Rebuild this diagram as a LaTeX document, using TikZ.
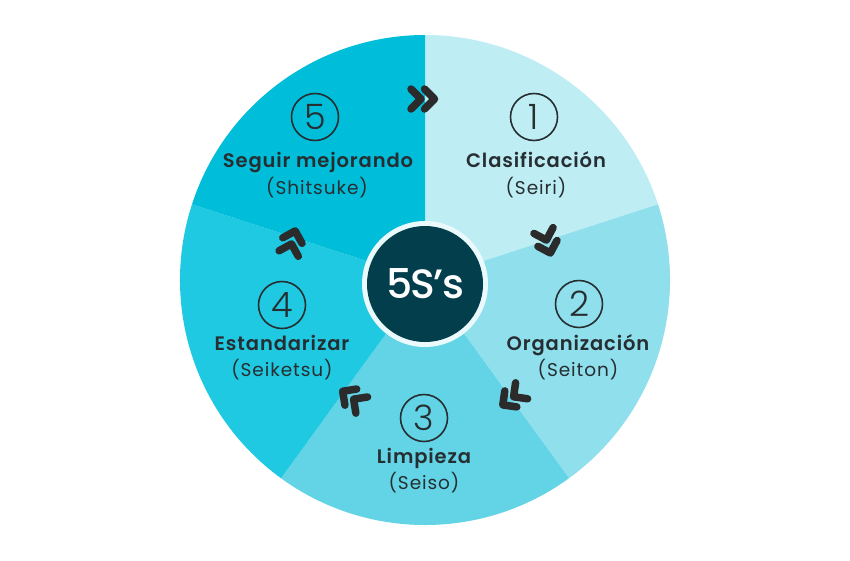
\documentclass[tikz,border=0pt]{standalone}
\usepackage{fontspec}
\setmainfont{Poppins}[BoldFont={Poppins SemiBold}]
\newfontfamily\lightfont{Poppins Light}
\newfontfamily\mediumfont{Poppins Medium}
\newlength{\du}
\setlength{\du}{1pt}
\definecolor{textcolor}{rgb}{0.149020, 0.180392, 0.196078}
\definecolor{chevroncolor}{rgb}{0.168627, 0.168627, 0.168627}
\tikzset{
  titletext/.style={anchor=base, text=textcolor, font=\fontsize{19.5\du}{22\du}\selectfont\bfseries\addfontfeatures{LetterSpace=4.5}},
  subtext/.style={anchor=base, text=textcolor, font=\fontsize{18.5\du}{20\du}\selectfont\addfontfeatures{LetterSpace=5}},
  numring/.style={circle, draw=textcolor, line width=1.6\du, minimum size=47\du, inner sep=0pt, text=textcolor, font=\fontsize{35\du}{35\du}\lightfont},
  chevron/.style={draw=chevroncolor, line width=7.5\du, line cap=round, line join=round}
}

\begin{document}
\begin{tikzpicture}
\pgftransformxscale{1.000000}
\pgftransformyscale{-1.000000}
\useasboundingbox (0\du,0\du) rectangle (850\du,560\du);
\definecolor{dialinecolor}{rgb}{1.000000, 1.000000, 1.000000}
\pgfsetfillcolor{dialinecolor}
\fill (0\du,0\du) rectangle (850\du,560\du);
% sectors, clockwise from the top
\definecolor{dialinecolor}{rgb}{0.749020, 0.929412, 0.956863}
\pgfsetfillcolor{dialinecolor}
\fill (425.000000\du,280.000000\du)--++(-90:245\du) arc (-90:-18:245\du)--cycle;
\definecolor{dialinecolor}{rgb}{0.560784, 0.874510, 0.925490}
\pgfsetfillcolor{dialinecolor}
\fill (425.000000\du,280.000000\du)--++(-18:245\du) arc (-18:54:245\du)--cycle;
\definecolor{dialinecolor}{rgb}{0.384314, 0.831373, 0.901961}
\pgfsetfillcolor{dialinecolor}
\fill (425.000000\du,280.000000\du)--++(54:245\du) arc (54:126:245\du)--cycle;
\definecolor{dialinecolor}{rgb}{0.121569, 0.788235, 0.882353}
\pgfsetfillcolor{dialinecolor}
\fill (425.000000\du,280.000000\du)--++(126:245\du) arc (126:198:245\du)--cycle;
\definecolor{dialinecolor}{rgb}{0.000000, 0.745098, 0.850980}
\pgfsetfillcolor{dialinecolor}
\fill (425.000000\du,280.000000\du)--++(198:245\du) arc (198:270:245\du)--cycle;
% hub
\definecolor{dialinecolor}{rgb}{0.917647, 0.976471, 0.984314}
\pgfsetfillcolor{dialinecolor}
\fill (425.000000\du,284.000000\du) circle (63\du);
\definecolor{dialinecolor}{rgb}{0.011765, 0.243137, 0.298039}
\pgfsetfillcolor{dialinecolor}
\fill (425.000000\du,284.000000\du) circle (58\du);
\node[text=white, font=\fontsize{41\du}{41\du}\mediumfont\addfontfeatures{LetterSpace=-4}] (hub) at (425.000000\du,284.000000\du){5S’s};
% numbers
\node[numring] (num1) at (534.000000\du,117.000000\du){1};
\node[numring] (num2) at (579.000000\du,304.000000\du){2};
\node[numring] (num3) at (424.000000\du,418.000000\du){3};
\node[numring] (num4) at (282.000000\du,305.000000\du){4};
\node[numring] (num5) at (315.000000\du,117.000000\du){5};
% labels
\node[titletext] (seiri) at (536.000000\du,167.000000\du){Clasificación};
\node[subtext] (seirisub) at (536.000000\du,194.000000\du){(Seiri)};
\node[titletext] (seiton) at (578.000000\du,350.000000\du){Organización};
\node[subtext] (seitonsub) at (578.000000\du,376.000000\du){(Seiton)};
\node[titletext] (seiso) at (424.000000\du,463.000000\du){Limpieza};
\node[subtext] (seisosub) at (424.000000\du,489.000000\du){(Seiso)};
\node[titletext] (seiketsu) at (282.000000\du,350.000000\du){Estandarizar};
\node[subtext] (seiketsusub) at (282.000000\du,376.000000\du){(Seiketsu)};
\node[titletext] (shitsuke) at (318.000000\du,167.000000\du){Seguir mejorando};
\node[subtext] (shitsukesub) at (317.000000\du,194.000000\du){(Shitsuke)};
% double chevrons between the steps
\foreach \cx/\cy/\rot in {423/99/0, 547/242/73, 512/398/143, 352/398/-144, 292/242/-74}{
\begin{scope}[shift={(\cx\du,\cy\du)}, rotate=\rot]
\draw[chevron] (-12\du,-10\du)--(-2\du,0\du)--(-12\du,10\du);
\draw[chevron] (1.5\du,-10\du)--(11.5\du,0\du)--(1.5\du,10\du);
\end{scope}
}
\end{tikzpicture}
\end{document}
